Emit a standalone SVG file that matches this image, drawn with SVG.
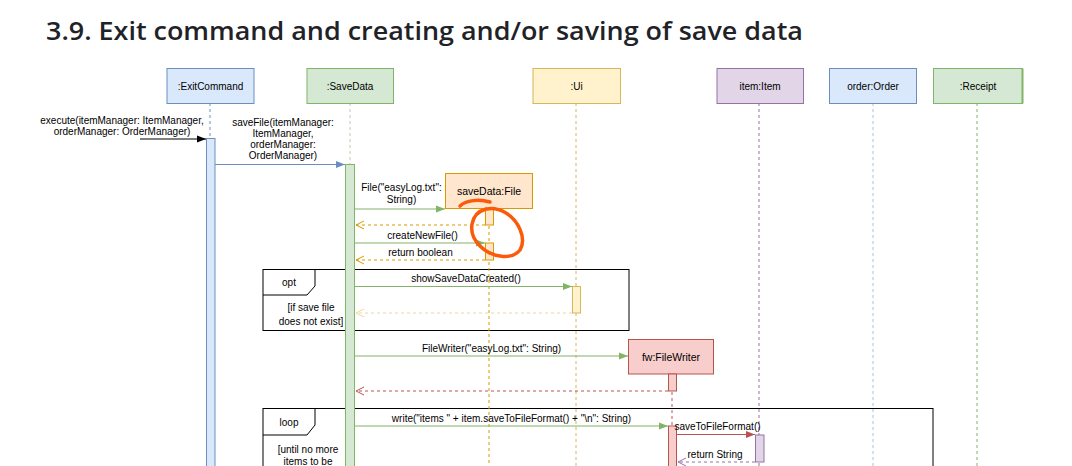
<svg xmlns="http://www.w3.org/2000/svg" width="1072" height="466" viewBox="0 0 1072 466">
<style>
.t{font-family:"Liberation Sans",Arial,sans-serif;font-size:10px;fill:#000;text-anchor:middle}
.h{font-family:"Liberation Sans",Arial,sans-serif;font-size:10.5px;fill:#000;text-anchor:middle}
.title{font-family:"Open Sans","Noto Sans",sans-serif;font-size:26px;font-weight:600;fill:#1f2328}
.ll{stroke-width:1;stroke-dasharray:3 3;fill:none}
.fr{fill:none;stroke:#000;stroke-width:1}
.ret{stroke-dasharray:3 3;fill:none;stroke-width:1}
.call{fill:none;stroke-width:1}
</style>
<defs>
<marker id="bk" markerUnits="userSpaceOnUse" markerWidth="10" markerHeight="8" refX="9" refY="4" orient="auto"><path d="M0,0.5 L9,4 L0,7.5 z" fill="#000"/></marker>
<marker id="bb" markerUnits="userSpaceOnUse" markerWidth="10" markerHeight="8" refX="9" refY="4" orient="auto"><path d="M0,0.5 L9,4 L0,7.5 z" fill="#6c8ebf"/></marker>
<marker id="bg" markerUnits="userSpaceOnUse" markerWidth="10" markerHeight="8" refX="9" refY="4" orient="auto"><path d="M0,0.5 L9,4 L0,7.5 z" fill="#82b366"/></marker>
<marker id="br" markerUnits="userSpaceOnUse" markerWidth="10" markerHeight="8" refX="9" refY="4" orient="auto"><path d="M0,0.5 L9,4 L0,7.5 z" fill="#b85450"/></marker>
<marker id="oo" markerUnits="userSpaceOnUse" markerWidth="10" markerHeight="10" refX="8" refY="4.5" orient="auto"><path d="M0,0.5 L8,4.5 L0,8.5" fill="none" stroke="#d79b00"/></marker>
<marker id="oy" markerUnits="userSpaceOnUse" markerWidth="10" markerHeight="10" refX="8" refY="4.5" orient="auto"><path d="M0,0.5 L8,4.5 L0,8.5" fill="none" stroke="#ead9a0"/></marker>
<marker id="or" markerUnits="userSpaceOnUse" markerWidth="10" markerHeight="10" refX="8" refY="4.5" orient="auto"><path d="M0,0.5 L8,4.5 L0,8.5" fill="none" stroke="#b85450"/></marker>
<marker id="op" markerUnits="userSpaceOnUse" markerWidth="10" markerHeight="10" refX="8" refY="4.5" orient="auto"><path d="M0,0.5 L8,4.5 L0,8.5" fill="none" stroke="#9673a6"/></marker>
</defs>
<rect width="1072" height="466" fill="#fff"/>
<text class="title" x="46" y="40" textLength="757" lengthAdjust="spacingAndGlyphs">3.9. Exit command and creating and/or saving of save data</text>

<g id="frames">
<rect class="fr" x="263" y="269.5" width="366" height="61"/>
<path class="fr" d="M263,295 H307 L315,286 V269.5"/>
<text class="t" x="289" y="286">opt</text>
<text class="t" x="311" y="311">[if save file</text>
<text class="t" x="311" y="325">does not exist]</text>
<rect class="fr" x="263" y="408.5" width="670" height="100"/>
<path class="fr" d="M263,435 H307 L315,425 V408.5"/>
<text class="t" x="289" y="426">loop</text>
<text class="t" x="308" y="453">[until no more</text>
<text class="t" x="308" y="465">items to be</text>
</g>

<g id="lifelines">
<line class="ll" x1="210" y1="103" x2="210" y2="138" stroke="#6c8ebf"/>
<line class="ll" x1="350" y1="103" x2="350" y2="164" stroke="#b9cdb0"/>
<line class="ll" x1="576" y1="103" x2="576" y2="466" stroke="#d6b656"/>
<line class="ll" x1="759" y1="103" x2="759" y2="466" stroke="#9673a6"/>
<line class="ll" x1="873" y1="103" x2="873" y2="466" stroke="#a9c0e0"/>
<line class="ll" x1="977" y1="103" x2="977" y2="466" stroke="#82b366"/>
<line class="ll" x1="489" y1="208" x2="489" y2="466" stroke="#d79b00"/>
<line class="ll" x1="672" y1="374" x2="672" y2="466" stroke="#b85450"/>
</g>

<g id="exitcommand">
<rect x="167" y="68.5" width="87" height="35" fill="#dae8fc" stroke="#6c8ebf"/>
<text class="t" x="210.5" y="89.5">:ExitCommand</text>
<rect x="206.5" y="138.5" width="8.5" height="340" fill="#dae8fc" stroke="#6c8ebf"/>
</g>
<g id="savedata">
<rect x="307" y="68.5" width="86.5" height="35" fill="#d5e8d4" stroke="#82b366"/>
<text class="t" x="350" y="89.5">:SaveData</text>
<rect x="345.5" y="164.5" width="9" height="310" fill="#d5e8d4" stroke="#82b366"/>
</g>
<g id="ui">
<rect x="533" y="68.5" width="87.5" height="35" fill="#fff2cc" stroke="#d6b656"/>
<text class="t" x="576.5" y="89.5">:Ui</text>
<rect x="572.5" y="286.5" width="8" height="26.5" fill="#fff2cc" stroke="#d6b656"/>
</g>
<g id="item">
<rect x="717" y="68.5" width="86.5" height="35" fill="#e1d5e7" stroke="#9673a6"/>
<text class="t" x="760" y="89.5">item:Item</text>
<rect x="755.5" y="435" width="8.5" height="27" fill="#e1d5e7" stroke="#9673a6"/>
</g>
<g id="order">
<rect x="829.5" y="68.5" width="87" height="35" fill="#dae8fc" stroke="#6c8ebf"/>
<text class="t" x="873" y="89.5">order:Order</text>
</g>
<g id="receipt">
<rect x="933.5" y="68.5" width="89" height="35" fill="#d5e8d4" stroke="#82b366"/>
<line x1="1022.5" y1="68.5" x2="1022.5" y2="103.5" stroke="#82b366" stroke-width="2"/>
<text class="t" x="978" y="89.5">:Receipt</text>
</g>
<g id="file">
<rect x="445.5" y="173.5" width="87" height="35" fill="#ffe6cc" stroke="#d79b00"/>
<text class="h" x="489" y="194.5">saveData:File</text>
<rect x="485.5" y="208.5" width="8" height="16.5" fill="#ffe6cc" stroke="#d79b00"/>
<rect x="485.5" y="243" width="8" height="17" fill="#ffe6cc" stroke="#d79b00"/>
</g>
<g id="filewriter">
<rect x="628.5" y="339.5" width="85" height="34.5" fill="#f8cecc" stroke="#b85450"/>
<text class="h" x="671" y="360.5">fw:FileWriter</text>
<rect x="668.5" y="374" width="8" height="17" fill="#f8cecc" stroke="#b85450"/>
<rect x="668.5" y="426" width="8" height="50" fill="#f8cecc" stroke="#b85450"/>
</g>

<g id="connectors">
<line class="call" x1="140" y1="139" x2="206" y2="139" stroke="#000" marker-end="url(#bk)"/>
<line class="call" x1="215" y1="164.5" x2="345" y2="164.5" stroke="#6c8ebf" marker-end="url(#bb)"/>
<line class="call" x1="355" y1="209" x2="445" y2="209" stroke="#82b366" marker-end="url(#bg)"/>
<line class="ret" x1="485" y1="225" x2="356" y2="225" stroke="#d79b00" marker-end="url(#oo)"/>
<line class="call" x1="355" y1="243" x2="485" y2="243" stroke="#82b366" marker-end="url(#bg)"/>
<line class="ret" x1="485" y1="260" x2="356" y2="260" stroke="#d79b00" marker-end="url(#oo)"/>
<line class="call" x1="355" y1="286.5" x2="572" y2="286.5" stroke="#82b366" marker-end="url(#bg)"/>
<line class="ret" x1="572" y1="313" x2="356" y2="313" stroke="#ead9a0" marker-end="url(#oy)"/>
<line class="call" x1="355" y1="356" x2="628" y2="356" stroke="#82b366" marker-end="url(#bg)"/>
<line class="ret" x1="668" y1="391" x2="356" y2="391" stroke="#b85450" marker-end="url(#or)"/>
<line class="call" x1="355" y1="426" x2="668" y2="426" stroke="#82b366" marker-end="url(#bg)"/>
<line class="call" x1="677" y1="434.5" x2="755" y2="434.5" stroke="#b85450" marker-end="url(#br)"/>
<line class="ret" x1="755" y1="462" x2="678" y2="462" stroke="#9673a6" marker-end="url(#op)"/>

<text class="t" x="122" y="124">execute(itemManager: ItemManager,</text>
<text class="t" x="122" y="134.5">orderManager: OrderManager)</text>
<text class="t" x="283" y="126">saveFile(itemManager:</text>
<text class="t" x="283" y="137">ItemManager,</text>
<text class="t" x="283" y="148">orderManager:</text>
<text class="t" x="283" y="159">OrderManager)</text>
<text class="t" x="401.5" y="191">File("easyLog.txt":</text>
<text class="t" x="401.5" y="203">String)</text>
<text class="t" x="422.5" y="238.5">createNewFile()</text>
<text class="t" x="420.5" y="256">return boolean</text>
<text class="t" x="466" y="282">showSaveDataCreated()</text>
<text class="t" x="491.5" y="352">FileWriter("easyLog.txt": String)</text>
<text class="t" x="511.5" y="422">write("items " + item.saveToFileFormat() + "\n": String)</text>
<text class="t" x="717.5" y="430">saveToFileFormat()</text>
<text class="t" x="715" y="457.5">return String</text>
</g>

<g id="annotation" fill="none" stroke="#fa5a0a" stroke-width="3.5" stroke-linecap="round" stroke-linejoin="round">
<path d="M460,206 C466,200 479,199 490,202"/>
<path d="M486,209 C471,213 466,232 480,246 C492,258 512,260 520,250 C527,238 518,220 506,213 C499,209 492,208 487,209"/>
</g>
</svg>
